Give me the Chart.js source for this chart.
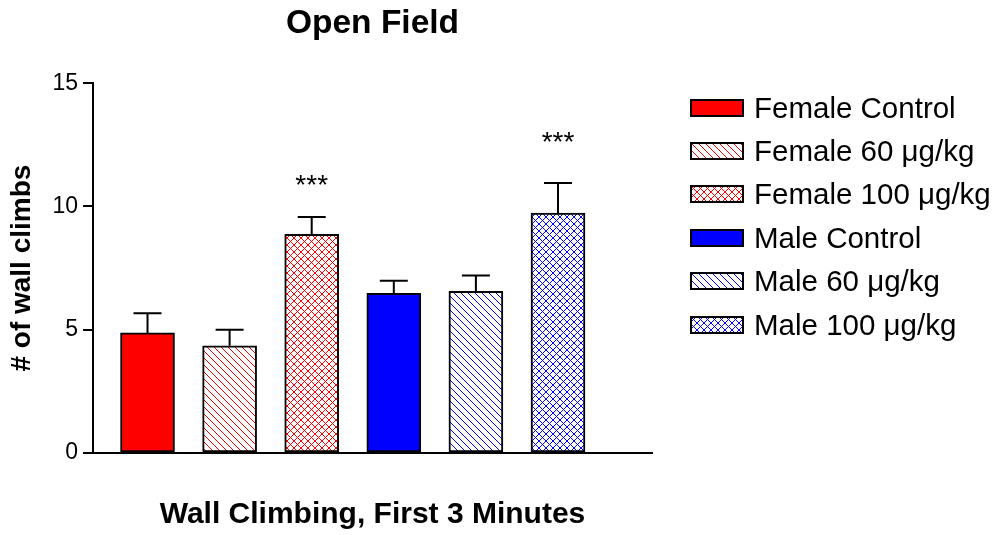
<!DOCTYPE html>
<html>
<head>
<meta charset="utf-8">
<script src="https://cdn.jsdelivr.net/npm/chart.js@4.4.1/dist/chart.umd.min.js"></script>
<style>
  body { margin: 0; background: #fff; }
  #wrap { position: relative; width: 998px; height: 535px; }
  #legend {
    position: absolute; left: 690px; top: 86px;
    font-family: Arial, "Liberation Sans", sans-serif; font-size: 29.5px; color: #000;
  }
  #legend .row { display: flex; align-items: center; height: 43.4px; white-space: nowrap; }
  #legend canvas { display: block; margin-right: 10px; }
</style>
</head>
<body>
<div id="wrap">
  <canvas id="openField" width="998" height="535"></canvas>
  <div id="legend"></div>
</div>
<script>
// wall climbs in the first 3 minutes, mean and SEM per group
const groups = ['Female Control', 'Female 60 μg/kg', 'Female 100 μg/kg',
                'Male Control', 'Male 60 μg/kg', 'Male 100 μg/kg'];
const means = [4.87, 4.35, 8.87, 6.48, 6.56, 9.73];
const sem = [0.80, 0.65, 0.70, 0.51, 0.64, 1.22];
// where the *** marks sit (baseline, in y units), null = no mark
const starLevel = [null, null, 10.5, null, null, 12.25];
const yTicks = [0, 5, 10, 15];

const RED = '#ff0000';
const BLUE = '#0000ff';

function hatch(color, cross) {
    const s = 7;
    const c = document.createElement('canvas');
    c.width = c.height = s;
    const g = c.getContext('2d');
    g.fillStyle = '#fff';
    g.fillRect(0, 0, s, s);
    g.strokeStyle = color;
    g.lineWidth = 1;
    g.beginPath();
    g.moveTo(-1, -1); g.lineTo(s + 1, s + 1);
    if (cross) { g.moveTo(s + 1, -1); g.lineTo(-1, s + 1); }
    g.stroke();
    return g.createPattern(c, 'repeat');
}

const fills = [RED, hatch(RED, false), hatch(RED, true),
               BLUE, hatch(BLUE, false), hatch(BLUE, true)];

const errorBars = {
    id: 'errorBars',
    afterDatasetsDraw(chart) {
        const {ctx, scales: {x, y}} = chart;
        ctx.save();
        ctx.strokeStyle = '#000';
        ctx.lineWidth = 2;
        ctx.beginPath();
        means.forEach((m, i) => {
            const px = x.getPixelForValue(i + 1);
            const top = y.getPixelForValue(m);
            const end = y.getPixelForValue(m + sem[i]);
            ctx.moveTo(px, top); ctx.lineTo(px, end);
            ctx.moveTo(px - 14, end); ctx.lineTo(px + 14, end);
        });
        ctx.stroke();
        ctx.fillStyle = '#000';
        ctx.font = '28px Arial, "Liberation Sans", sans-serif';
        ctx.textAlign = 'center';
        ctx.textBaseline = 'alphabetic';
        starLevel.forEach((lv, i) => {
            if (lv === null) return;
            ctx.fillText('***', x.getPixelForValue(i + 1), y.getPixelForValue(lv));
        });
        ctx.restore();
    }
};

// legend as html rows, swatches painted with the bar fills
const htmlLegend = {
    id: 'htmlLegend',
    afterUpdate(chart) {
        const box = document.getElementById('legend');
        box.innerHTML = '';
        const items = chart.options.plugins.legend.labels.generateLabels(chart);
        items.forEach(item => {
            const row = document.createElement('div');
            row.className = 'row';
            const sw = document.createElement('canvas');
            sw.width = 54; sw.height = 18;
            const g = sw.getContext('2d');
            g.fillStyle = item.fillStyle;
            g.fillRect(0, 0, 54, 18);
            g.strokeStyle = item.strokeStyle;
            g.lineWidth = item.lineWidth;
            g.strokeRect(1, 1, 52, 16);
            const label = document.createElement('span');
            label.textContent = item.text;
            row.appendChild(sw);
            row.appendChild(label);
            box.appendChild(row);
        });
    }
};

Chart.defaults.font.family = 'Arial, "Liberation Sans", sans-serif';
Chart.defaults.color = '#000';

new Chart(document.getElementById('openField'), {
    type: 'bar',
    data: {
        datasets: [{
            data: means.map((v, i) => ({x: i + 1, y: v})),
            backgroundColor: fills,
            borderColor: '#000',
            borderWidth: 2,
            borderSkipped: false,
            barThickness: 54
        }]
    },
    options: {
        responsive: false,
        animation: false,
        layout: {padding: {right: 346}},
        plugins: {
            tooltip: {enabled: false},
            title: {
                display: true,
                text: 'Open Field',
                fullSize: false,
                font: {size: 33.5, weight: 'bold'},
                padding: {top: 4, bottom: 39}
            },
            legend: {
                display: false,
                labels: {
                    generateLabels: () => groups.map((g, i) => ({
                        text: g,
                        fillStyle: fills[i],
                        strokeStyle: '#000',
                        lineWidth: 2
                    }))
                }
            }
        },
        scales: {
            x: {
                type: 'linear',
                offset: false,
                min: 0.336,
                max: 7.145,
                grid: {display: false, drawTicks: false},
                ticks: {display: false},
                border: {color: '#000', width: 2},
                title: {
                    display: true,
                    text: 'Wall Climbing, First 3 Minutes',
                    font: {size: 30, weight: 'bold'},
                    padding: {top: 44, bottom: 2}
                }
            },
            y: {
                min: 0,
                max: 15,
                afterBuildTicks: s => { s.ticks = yTicks.map(v => ({value: v})); },
                afterFit: s => { s.width = 93; },
                grid: {drawOnChartArea: false, tickLength: 10, color: '#000', lineWidth: 2},
                border: {color: '#000', width: 2},
                ticks: {font: {size: 23}, padding: 5},
                title: {
                    display: true,
                    text: '# of wall climbs',
                    font: {size: 28, weight: 'bold'},
                    padding: {top: 5, bottom: 16}
                }
            }
        }
    },
    plugins: [errorBars, htmlLegend]
});
</script>
</body>
</html>
